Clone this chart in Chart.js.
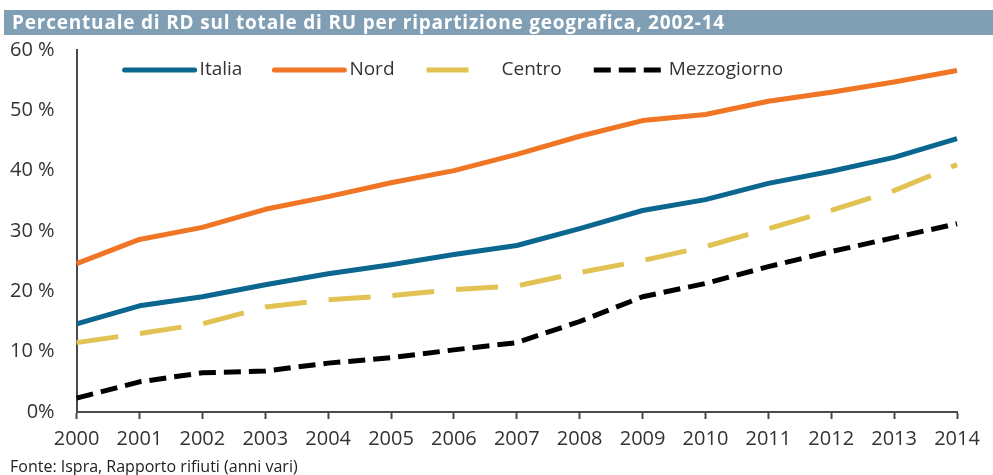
<!DOCTYPE html>
<html lang="it">
<head>
<meta charset="utf-8">
<title>Percentuale di RD sul totale di RU</title>
<script src="https://cdn.jsdelivr.net/npm/chart.js@4.4.1/dist/chart.umd.min.js"></script>
<style>
    html, body {
        margin: 0;
        padding: 0;
        background: #ffffff;
        font-family: "Open Sans", "Noto Sans", sans-serif;
    }
    #page {
        position: relative;
        width: 993px;
        height: 475px;
        overflow: hidden;
    }
    #title-bar {
        position: absolute;
        left: 4px;
        top: 10px;
        width: 989px;
        height: 25px;
        background: #819fb4;
        color: #ffffff;
        font-weight: bold;
        font-size: 19px;
        letter-spacing: 0.8px;
        line-height: 25px;
        padding-left: 8px;
        box-sizing: border-box;
        white-space: nowrap;
    }
    #chart-wrap {
        position: absolute;
        left: 0;
        top: 0;
        width: 993px;
        height: 475px;
    }
    #source {
        position: absolute;
        left: 10px;
        top: 455px;
        font-size: 16px;
        line-height: 22px;
        color: #222222;
        white-space: nowrap;
    }
</style>
</head>
<body>
<div id="page">
    <div id="chart-wrap"><canvas id="rd-chart"></canvas></div>
    <div id="title-bar">Percentuale di RD sul totale di RU per ripartizione geografica, 2002-14</div>
    <div id="source">Fonte: Ispra, Rapporto rifiuti (anni vari)</div>
</div>
<script>
// Dati (valori in %)
const years = ['2000', '2001', '2002', '2003', '2004', '2005', '2006', '2007',
               '2008', '2009', '2010', '2011', '2012', '2013', '2014'];

const italia      = [14.6, 17.6, 19.1, 21.1, 22.9, 24.4, 26.1, 27.6, 30.4, 33.4, 35.2, 37.9, 39.9, 42.2, 45.3];
const nord        = [24.6, 28.6, 30.6, 33.6, 35.7, 38.0, 40.0, 42.7, 45.7, 48.3, 49.3, 51.5, 53.0, 54.7, 56.6];
const centro      = [11.5, 13.0, 14.6, 17.4, 18.6, 19.3, 20.3, 20.9, 23.1, 25.1, 27.4, 30.4, 33.4, 36.7, 41.0];
const mezzogiorno = [ 2.3,  5.0,  6.5,  6.8,  8.1,  9.0, 10.3, 11.5, 15.0, 19.1, 21.3, 24.1, 26.6, 28.9, 31.2];

const yTickLabels = ['0%', '10 %', '20 %', '30 %', '40 %', '50 %', '60 %'];

const textColor = '#333333';
const axisColor = '#4a4a4a';
const fontFamily = '"Open Sans", "Noto Sans", sans-serif';

function buildLine(label, data, color, dash) {
    return {
        label,
        data,
        borderColor: color,
        backgroundColor: color,
        borderWidth: 5,
        borderDash: dash,
        borderCapStyle: 'butt',
        borderJoinStyle: 'round',
        pointRadius: 0,
        tension: 0,
        fill: false
    };
}

// legenda su una riga, disegnata dentro l'area del grafico
const inlineLegend = {
    id: 'inlineLegend',
    afterDraw(chart) {
        const ctx = chart.ctx;
        const area = chart.chartArea;
        const y = area.top + 20;
        let x = area.left + 46;
        ctx.save();
        ctx.font = '19px ' + fontFamily;
        ctx.textBaseline = 'middle';
        ctx.textAlign = 'left';
        chart.data.datasets.forEach(ds => {
            const dash = ds.borderDash || [];
            const len = (dash.length && dash[0] > 30) ? 64 : 72;
            ctx.strokeStyle = ds.borderColor;
            ctx.lineWidth = 5;
            ctx.setLineDash(dash);
            ctx.lineCap = dash.length ? 'butt' : 'round';
            ctx.beginPath();
            ctx.moveTo(x + 2, y);
            ctx.lineTo(x + len, y);
            ctx.stroke();
            ctx.setLineDash([]);
            ctx.fillStyle = textColor;
            ctx.fillText(ds.label, x + 77, y);
            x += 77 + ctx.measureText(ds.label).width + 30;
        });
        ctx.restore();
    }
};

new Chart(document.getElementById('rd-chart'), {
    type: 'line',
    data: {
        labels: years,
        datasets: [
            buildLine('Italia', italia, '#0b6690', []),
            buildLine('Nord', nord, '#f07524', []),
            buildLine('Centro', centro, '#e1c252', [42, 22]),
            buildLine('Mezzogiorno', mezzogiorno, '#000000', [17, 8])
        ]
    },
    options: {
        responsive: true,
        maintainAspectRatio: false,
        animation: false,
        layout: {
            padding: { left: -12, right: 36, top: 50, bottom: 16 }
        },
        plugins: {
            legend: { display: false },
            tooltip: { enabled: false }
        },
        scales: {
            x: {
                offset: false,
                grid: {
                    display: true,
                    drawOnChartArea: false,
                    drawTicks: true,
                    tickLength: 7,
                    tickWidth: 2,
                    color: axisColor
                },
                border: { display: true, color: axisColor, width: 2 },
                ticks: {
                    color: textColor,
                    padding: 8,
                    maxRotation: 0,
                    autoSkip: false,
                    font: { family: fontFamily, size: 20 }
                }
            },
            y: {
                min: 0,
                max: 60,
                grid: { display: false, drawTicks: false },
                border: { display: true, color: axisColor, width: 2 },
                ticks: {
                    stepSize: 10,
                    padding: 22,
                    color: textColor,
                    font: { family: fontFamily, size: 20 },
                    callback: function(value) {
                        return yTickLabels[Math.round(value / 10)];
                    }
                }
            }
        }
    },
    plugins: [inlineLegend]
});
</script>
</body>
</html>
